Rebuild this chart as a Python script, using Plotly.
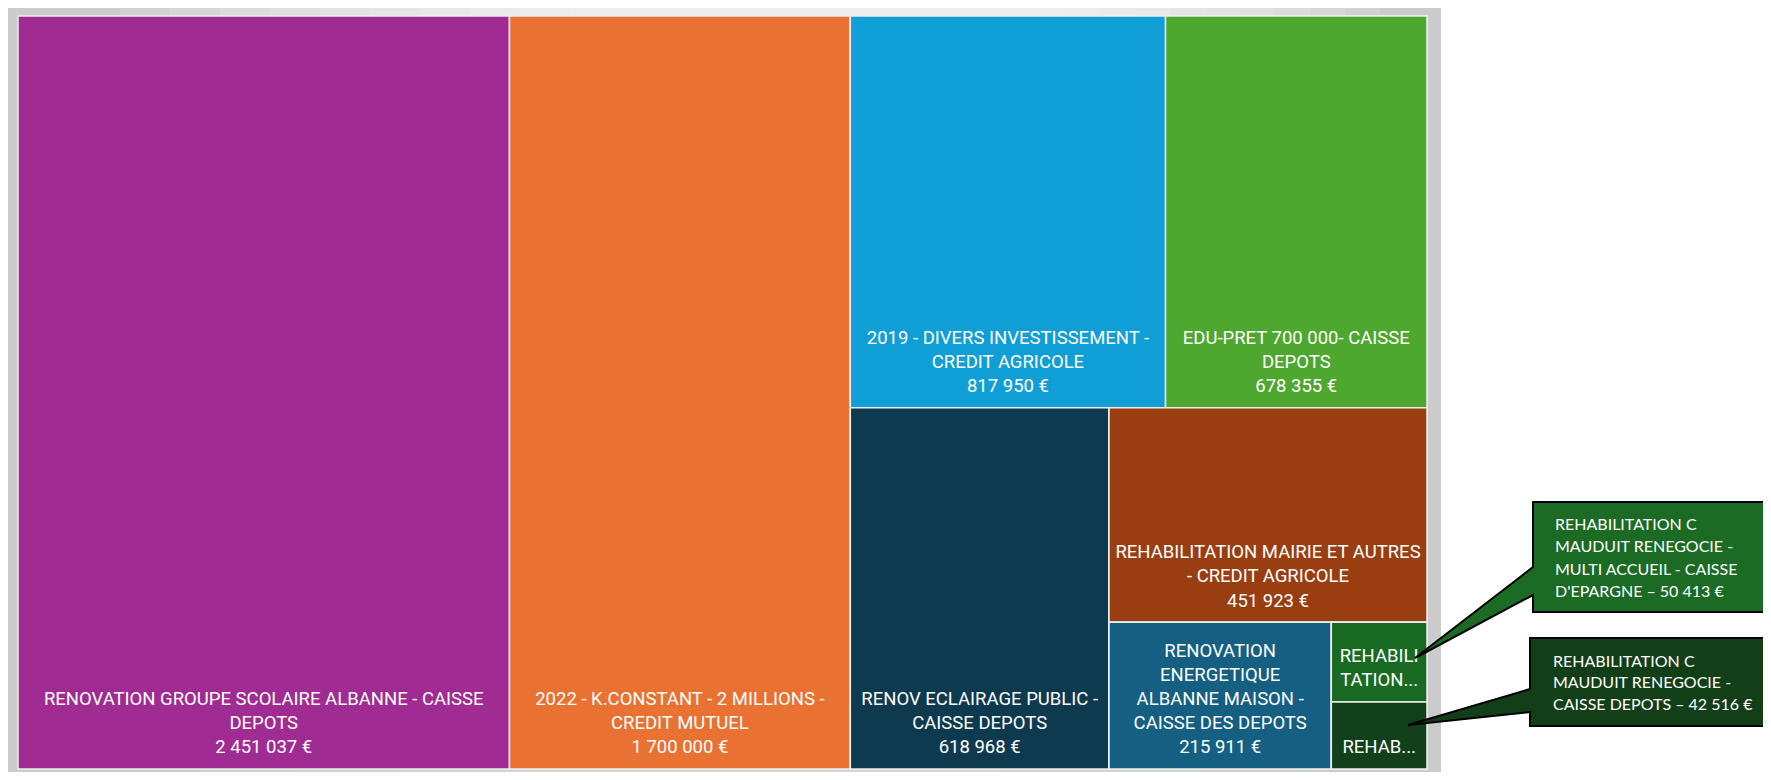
import plotly.graph_objects as go

# page is 1771x780; the html body has an 8px margin, so the figure is placed at (8, 8)
PAGE_W, PAGE_H = 1771, 780
OFF = 8
FW, FH = PAGE_W - OFF, PAGE_H - 2 * OFF

# ---------------- data ----------------
loan_names = [
    "RENOVATION GROUPE SCOLAIRE ALBANNE - CAISSE DEPOTS",
    "2022 - K.CONSTANT - 2 MILLIONS - CREDIT MUTUEL",
    "2019 - DIVERS INVESTISSEMENT - CREDIT AGRICOLE",
    "EDU-PRET 700 000- CAISSE DEPOTS",
    "RENOV ECLAIRAGE PUBLIC - CAISSE DEPOTS",
    "REHABILITATION MAIRIE ET AUTRES - CREDIT AGRICOLE",
    "RENOVATION ENERGETIQUE ALBANNE MAISON - CAISSE DES DEPOTS",
    "REHABILITATION C MAUDUIT RENEGOCIE - MULTI ACCUEIL - CAISSE D'EPARGNE",
    "REHABILITATION C MAUDUIT RENEGOCIE - CAISSE DEPOTS",
]
loan_values = [2451037, 1700000, 817950, 678355, 618968, 451923, 215911, 50413, 42516]
loan_colors = ["#A02B93", "#E97132", "#0F9ED5", "#4EA72E", "#0E3A4F",
               "#993E10", "#156082", "#196B24", "#12401A"]
# label lines as wrapped in the reference
loan_label_lines = [
    ["RENOVATION GROUPE SCOLAIRE ALBANNE - CAISSE", "DEPOTS"],
    ["2022 - K.CONSTANT - 2 MILLIONS -", "CREDIT MUTUEL"],
    ["2019 - DIVERS INVESTISSEMENT -", "CREDIT AGRICOLE"],
    ["EDU-PRET 700 000- CAISSE", "DEPOTS"],
    ["RENOV ECLAIRAGE PUBLIC -", "CAISSE DEPOTS"],
    ["REHABILITATION MAIRIE ET AUTRES", "- CREDIT AGRICOLE"],
    ["RENOVATION", "ENERGETIQUE", "ALBANNE MAISON -", "CAISSE DES DEPOTS"],
    ["REHABILI", "TATION..."],
    ["REHAB..."],
]
loan_show_value = [True, True, True, True, True, True, True, False, False]

# grouping used to reproduce the tile arrangement
loan_group = ["", "", "T", "T", "B", "C", "D", "E", "E"]
group_ids = ["A", "T", "B", "C", "D", "E"]
group_parent = ["", "A", "A", "B", "C", "D"]

# callouts for the two smallest loans
callout_lines = [
    ["REHABILITATION C", "MAUDUIT RENEGOCIE -", "MULTI ACCUEIL - CAISSE", "D'EPARGNE \u2013 50 413 \u20ac"],
    ["REHABILITATION C", "MAUDUIT RENEGOCIE -", "CAISSE DEPOTS \u2013 42 516 \u20ac"],
]
callout_colors = ["#1B6B25", "#123F18"]


def fmt_eur(v):
    return f"{v:,}".replace(",", " ") + " \u20ac"


# ---------------- build hierarchy ----------------
leaf_ids = [f"L{i}" for i in range(len(loan_names))]
children = {}
for lid, g in zip(leaf_ids, loan_group):
    children.setdefault(g, []).append(lid)
for gid, gp in zip(group_ids, group_parent):
    children.setdefault(gp, []).append(gid)

leaf_val = dict(zip(leaf_ids, loan_values))


def subtotal(node):
    if node in leaf_val:
        return leaf_val[node]
    return sum(subtotal(c) for c in children.get(node, []))


ids = leaf_ids + group_ids
parents = loan_group + group_parent
values = loan_values + [subtotal(g) for g in group_ids]
labels = loan_names + ["" for _ in group_ids]
colors = loan_colors + ["#ffffff" for _ in group_ids]
texts = []
for lines, sv, v in zip(loan_label_lines, loan_show_value, loan_values):
    t = "<br>".join(lines)
    if sv:
        t += "<br>" + fmt_eur(v)
    t += "<br><sup><sup>\u00a0</sup></sup>"  # small spacer to lift the label off the tile bottom
    texts.append(t)
texts += ["" for _ in group_ids]


def px(x):
    return (x - OFF) / FW


def py(y):
    return 1 - (y - OFF) / FH


# plotting region (page pixels)
X0, X1 = 18, 1427
Y0, Y1 = 16, 769

fig = go.Figure(go.Treemap(
    ids=ids,
    labels=labels,
    parents=parents,
    values=values,
    branchvalues="total",
    sort=False,
    text=texts,
    texttemplate="%{text}",
    textposition="bottom center",
    hovertemplate="%{label}<br>%{value:,} \u20ac<extra></extra>",
    marker=dict(colors=colors, line=dict(color="#EDEDED", width=1.5),
                pad=dict(t=0, l=0, r=0, b=0)),
    tiling=dict(packing="slice-dice", pad=0),
    pathbar=dict(visible=False),
    textfont=dict(family="Roboto", size=18.5, color="white"),
    domain=dict(x=[px(X0), px(X1)], y=[py(Y1), py(Y0)]),
))

shapes = []
# grey frame
shapes.append(dict(type="rect", xref="paper", yref="paper", layer="below",
                   x0=px(5), x1=px(1441), y0=py(777), y1=py(3),
                   fillcolor="#CBCBCB", line=dict(width=0)))
# soft highlight along the top of the frame
for k in range(10):
    xa = 120 + k * 50
    xb = 1380 - k * 35
    shapes.append(dict(type="rect", xref="paper", yref="paper", layer="below",
                       x0=px(xa), x1=px(xb), y0=py(Y0), y1=py(3),
                       fillcolor="white", opacity=0.12, line=dict(width=0)))
for k in range(4):
    xa = 200 + k * 100
    xb = 1300 - k * 100
    shapes.append(dict(type="rect", xref="paper", yref="paper", layer="below",
                       x0=px(xa), x1=px(xb), y0=py(777), y1=py(Y1),
                       fillcolor="white", opacity=0.06, line=dict(width=0)))

# callout bubbles
bubbles = [
    dict(left=1533, top=502, bottom=612, b1=567, b2=595, tip=(1415, 658)),
    dict(left=1530, top=638, bottom=726, b1=689, b2=712, tip=(1408, 725)),
]
for b, col in zip(bubbles, callout_colors):
    pts = [(b["left"], b["top"]), (PAGE_W + 5, b["top"]), (PAGE_W + 5, b["bottom"]),
           (b["left"], b["bottom"]), (b["left"], b["b2"]), b["tip"],
           (b["left"], b["b1"])]
    path = "M " + " L ".join(f"{px(x)},{py(y)}" for x, y in pts) + " Z"
    shapes.append(dict(type="path", xref="paper", yref="paper", path=path,
                       fillcolor=col, line=dict(color="black", width=2)))

annotations = []
callout_text_pos = [(1553, 523, 22.6), (1551, 660, 21.8)]
for lines, (tx, ty, dy) in zip(callout_lines, callout_text_pos):
    for i, line in enumerate(lines):
        annotations.append(dict(xref="paper", yref="paper", x=px(tx), y=py(ty + i * dy),
                                xanchor="left", yanchor="middle", showarrow=False,
                                text=line, font=dict(family="Lato", size=16, color="white")))

fig.update_layout(
    width=FW, height=FH,
    margin=dict(l=0, r=0, t=0, b=0),
    paper_bgcolor="white",
    shapes=shapes,
    annotations=annotations,
    showlegend=False,
)

fig.write_html("out.html")
